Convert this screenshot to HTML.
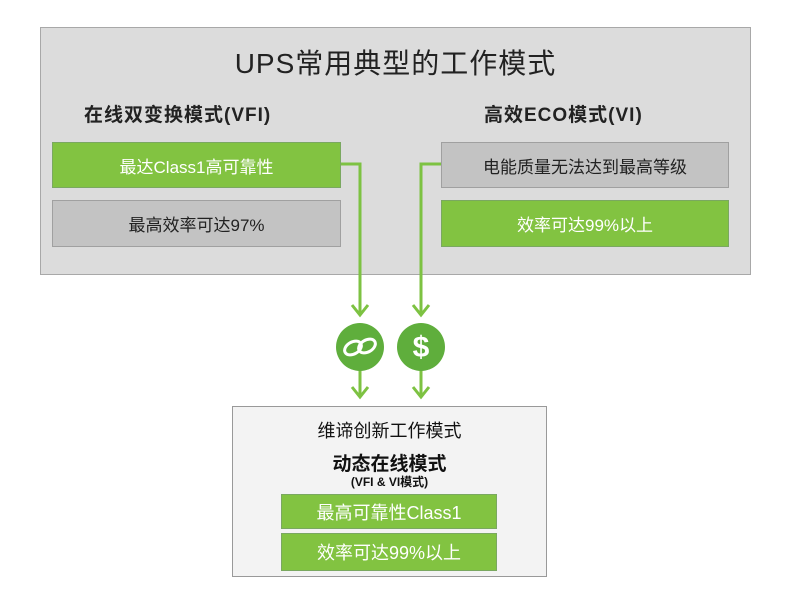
<!DOCTYPE html>
<html><head><meta charset="utf-8"><style>
body{margin:0;width:800px;height:600px;background:#fff;position:relative;overflow:hidden;font-family:"Liberation Sans","Noto Sans CJK SC",sans-serif}
.a{position:absolute;box-sizing:border-box}
.outer{left:40px;top:27px;width:711px;height:248px;background:#dcdcdc;border:1px solid #a8a8a8}
.g{background:#82c341;border:1px solid #7aa860;color:#fff;display:flex;align-items:center;justify-content:center;font-size:17px}
.y{background:#c3c3c3;border:1px solid #a0a0a0;color:#222;display:flex;align-items:center;justify-content:center;font-size:17px}
.t{text-align:center;color:#111}
</style></head><body>
<div class="a outer"></div>
<div class="a t" style="left:40px;width:711px;top:42px;font-size:28px;letter-spacing:1px;color:#222">UPS常用典型的工作模式</div>
<div class="a" style="left:84px;top:100px;font-size:19px;letter-spacing:1px;font-weight:bold;color:#222">在线双变换模式(VFI)</div>
<div class="a" style="left:484px;top:100px;font-size:19px;letter-spacing:1px;font-weight:bold;color:#222">高效ECO模式(VI)</div>
<div class="a g" style="left:52px;top:142px;width:289px;height:46px">最达Class1高可靠性</div>
<div class="a y" style="left:52px;top:200px;width:289px;height:47px">最高效率可达97%</div>
<div class="a y" style="left:441px;top:142px;width:288px;height:46px">电能质量无法达到最高等级</div>
<div class="a g" style="left:441px;top:200px;width:288px;height:47px">效率可达99%以上</div>
<svg class="a" style="left:0;top:0" width="800" height="600">
<g stroke="#7dc242" stroke-width="3" fill="none">
<polyline points="341,164 360,164 360,314"/>
<polyline points="441,164 421,164 421,314"/>
<polyline points="352,305 360,315 368,305"/>
<polyline points="413,305 421,315 429,305"/>
<line x1="360" y1="370" x2="360" y2="396"/>
<line x1="421" y1="370" x2="421" y2="396"/>
<polyline points="352,387 360,397 368,387"/>
<polyline points="413,387 421,397 429,387"/>
</g>
<circle cx="360" cy="347" r="24" fill="#5fae3c"/>
<circle cx="421" cy="347" r="24" fill="#5fae3c"/>
<g stroke="#fff" stroke-width="3" fill="none">
<ellipse cx="353" cy="348" rx="9" ry="6" transform="rotate(-30 353 348)"/>
<ellipse cx="367" cy="346" rx="9" ry="6" transform="rotate(-30 367 346)"/>
</g>
<text x="421" y="357" fill="#fff" font-size="30" font-weight="bold" text-anchor="middle" font-family="Liberation Sans">$</text>
</svg>
<div class="a" style="left:232px;top:406px;width:315px;height:171px;background:#f3f3f3;border:1px solid #999"></div>
<div class="a t" style="left:232px;width:315px;top:417px;font-size:18px">维谛创新工作模式</div>
<div class="a t" style="left:232px;width:315px;top:449px;font-size:19px;font-weight:bold">动态在线模式</div>
<div class="a t" style="left:232px;width:315px;top:473px;font-size:12px;font-weight:bold">(VFI &amp; VI模式)</div>
<div class="a g" style="left:281px;top:494px;width:216px;height:35px;font-size:18px">最高可靠性Class1</div>
<div class="a g" style="left:281px;top:533px;width:216px;height:38px;font-size:18px">效率可达99%以上</div>
</body></html>
